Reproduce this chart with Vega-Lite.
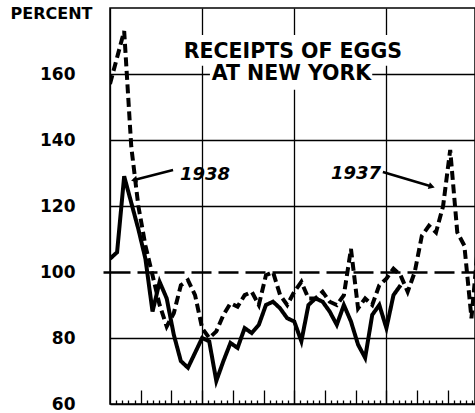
{
  "$schema": "https://vega.github.io/schema/vega-lite/v6.json",
  "width": 365,
  "height": 396,
  "autosize": {"type": "none"},
  "padding": {"left": 110, "top": 8, "right": 0, "bottom": 9},
  "background": "white",
  "config": {"view": {"stroke": "black", "strokeWidth": 1.5}, "font": "DejaVu Sans"},
  "resolve": {"axis": {"x": "independent"}},
  "datasets": {
    "series": [
      {"year": "1937", "week": 0, "value": 157}, {"year": "1937", "week": 1, "value": 165}, {"year": "1937", "week": 2, "value": 173},
      {"year": "1937", "week": 3, "value": 138}, {"year": "1937", "week": 4, "value": 120}, {"year": "1937", "week": 5, "value": 108},
      {"year": "1937", "week": 6, "value": 99}, {"year": "1937", "week": 7, "value": 90}, {"year": "1937", "week": 8, "value": 83.5},
      {"year": "1937", "week": 9, "value": 87.5}, {"year": "1937", "week": 10, "value": 96}, {"year": "1937", "week": 11, "value": 97.5},
      {"year": "1937", "week": 12, "value": 93}, {"year": "1937", "week": 13, "value": 83}, {"year": "1937", "week": 14, "value": 80},
      {"year": "1937", "week": 15, "value": 82}, {"year": "1937", "week": 16, "value": 87}, {"year": "1937", "week": 17, "value": 90.5},
      {"year": "1937", "week": 18, "value": 89.5}, {"year": "1937", "week": 19, "value": 93}, {"year": "1937", "week": 20, "value": 94},
      {"year": "1937", "week": 21, "value": 90}, {"year": "1937", "week": 22, "value": 99}, {"year": "1937", "week": 23, "value": 100},
      {"year": "1937", "week": 24, "value": 93}, {"year": "1937", "week": 25, "value": 90}, {"year": "1937", "week": 26, "value": 94},
      {"year": "1937", "week": 27, "value": 97}, {"year": "1937", "week": 28, "value": 92}, {"year": "1937", "week": 29, "value": 92},
      {"year": "1937", "week": 30, "value": 94}, {"year": "1937", "week": 31, "value": 91}, {"year": "1937", "week": 32, "value": 90},
      {"year": "1937", "week": 33, "value": 93}, {"year": "1937", "week": 34, "value": 107}, {"year": "1937", "week": 35, "value": 89},
      {"year": "1937", "week": 36, "value": 92}, {"year": "1937", "week": 37, "value": 90}, {"year": "1937", "week": 38, "value": 96},
      {"year": "1937", "week": 39, "value": 98}, {"year": "1937", "week": 40, "value": 101}, {"year": "1937", "week": 41, "value": 99},
      {"year": "1937", "week": 42, "value": 94}, {"year": "1937", "week": 43, "value": 100}, {"year": "1937", "week": 44, "value": 111},
      {"year": "1937", "week": 45, "value": 114}, {"year": "1937", "week": 46, "value": 112}, {"year": "1937", "week": 47, "value": 120},
      {"year": "1937", "week": 48, "value": 137}, {"year": "1937", "week": 49, "value": 112}, {"year": "1937", "week": 50, "value": 108},
      {"year": "1937", "week": 51, "value": 86}, {"year": "1937", "week": 52, "value": 110},
      {"year": "1938", "week": 0, "value": 104}, {"year": "1938", "week": 1, "value": 106}, {"year": "1938", "week": 2, "value": 129},
      {"year": "1938", "week": 3, "value": 121}, {"year": "1938", "week": 4, "value": 113}, {"year": "1938", "week": 5, "value": 104},
      {"year": "1938", "week": 6, "value": 88}, {"year": "1938", "week": 7, "value": 97}, {"year": "1938", "week": 8, "value": 92},
      {"year": "1938", "week": 9, "value": 81}, {"year": "1938", "week": 10, "value": 73}, {"year": "1938", "week": 11, "value": 71},
      {"year": "1938", "week": 12, "value": 75.5}, {"year": "1938", "week": 13, "value": 80}, {"year": "1938", "week": 14, "value": 79},
      {"year": "1938", "week": 15, "value": 67}, {"year": "1938", "week": 16, "value": 73}, {"year": "1938", "week": 17, "value": 78.5},
      {"year": "1938", "week": 18, "value": 77}, {"year": "1938", "week": 19, "value": 83}, {"year": "1938", "week": 20, "value": 81.5},
      {"year": "1938", "week": 21, "value": 84}, {"year": "1938", "week": 22, "value": 90}, {"year": "1938", "week": 23, "value": 91},
      {"year": "1938", "week": 24, "value": 89}, {"year": "1938", "week": 25, "value": 86}, {"year": "1938", "week": 26, "value": 85},
      {"year": "1938", "week": 27, "value": 79}, {"year": "1938", "week": 28, "value": 90}, {"year": "1938", "week": 29, "value": 92},
      {"year": "1938", "week": 30, "value": 91}, {"year": "1938", "week": 31, "value": 88}, {"year": "1938", "week": 32, "value": 84},
      {"year": "1938", "week": 33, "value": 90}, {"year": "1938", "week": 34, "value": 85}, {"year": "1938", "week": 35, "value": 78},
      {"year": "1938", "week": 36, "value": 74}, {"year": "1938", "week": 37, "value": 87}, {"year": "1938", "week": 38, "value": 90},
      {"year": "1938", "week": 39, "value": 83}, {"year": "1938", "week": 40, "value": 93}, {"year": "1938", "week": 41, "value": 96}
    ],
    "boxes": [
      {"week": 9.9, "week2": 42, "value": 162.5, "value2": 171.8},
      {"week": 14.1, "week2": 37, "value": 155.2, "value2": 163.6}
    ],
    "titles": [
      {"label": "RECEIPTS OF EGGS", "week": 25.8, "value": 166.7},
      {"label": "AT NEW YORK", "week": 25.6, "value": 160}
    ],
    "years": [
      {"label": "1938", "week": 13.4, "value": 129.4},
      {"label": "1937", "week": 34.7, "value": 129.7}
    ],
    "arrows": [
      {"year": "1938", "week": 8.9, "value": 130.9, "week2": 3.4, "value2": 127.9},
      {"year": "1937", "week": 38.5, "value": 130.3, "week2": 45.4, "value2": 125.9}
    ]
  },
  "layer": [
    {
      "data": {"name": "series"},
      "mark": {"type": "line", "color": "black", "strokeWidth": 4, "clip": true, "strokeCap": "butt"},
      "encoding": {
        "x": {
          "field": "week", "type": "quantitative",
          "scale": {"domain": [0, 51.5], "nice": false, "zero": false},
          "axis": {
            "orient": "bottom", "title": null, "labels": false, "domain": false, "ticks": false,
            "values": [0, 13, 26, 39],
            "grid": true, "gridColor": "black", "gridWidth": 1.3, "gridOpacity": 1
          }
        },
        "y": {
          "field": "value", "type": "quantitative",
          "scale": {"domain": [60, 180], "nice": false, "zero": false},
          "axis": {
            "values": [60, 80, 100, 120, 140, 160],
            "title": "PERCENT", "titleAngle": 0, "titleAlign": "left", "titleBaseline": "alphabetic",
            "titleX": -100, "titleY": 10, "titleFont": "DejaVu Sans", "titleFontSize": 16, "titleFontWeight": "bold", "titleColor": "black",
            "labelFont": "DejaVu Sans", "labelFontSize": 17, "labelFontWeight": "bold", "labelColor": "black",
            "labelPadding": 28, "labelFlush": false, "labelOverlap": false,
            "tickSize": 7, "tickColor": "black", "tickWidth": 2.5,
            "tickOpacity": {"condition": {"test": "datum.value === 100", "value": 1}, "value": 0},
            "domain": false, "grid": true, "gridColor": "black", "gridOpacity": 1,
            "gridWidth": {"condition": {"test": "datum.value === 100", "value": 2.5}, "value": 1.3},
            "gridDash": {"condition": {"test": "datum.value === 100", "value": [20, 7]}, "value": []}
          }
        },
        "strokeDash": {"field": "year", "type": "nominal", "scale": {"domain": ["1937", "1938"], "range": [[9, 4.5], [1, 0]]}, "legend": null}
      }
    },
    {
      "data": {"name": "boxes"},
      "mark": {"type": "rect", "color": "white"},
      "encoding": {
        "x": {
          "field": "week", "type": "quantitative",
          "axis": {
            "orient": "bottom", "title": null, "labels": false, "domain": false, "grid": false,
            "values": [4.3333, 8.6667, 13, 17.3333, 21.6667, 26, 30.3333, 34.6667, 39, 43.3333, 47.6667],
            "tickSize": -14, "tickColor": "black", "tickWidth": 1.3
          }
        },
        "x2": {"field": "week2"},
        "y": {"field": "value", "type": "quantitative"},
        "y2": {"field": "value2"}
      }
    },
    {
      "data": {"name": "titles"},
      "mark": {"type": "text", "font": "DejaVu Sans", "fontWeight": "bold", "fontSize": 20.5, "color": "black", "align": "center", "baseline": "middle"},
      "encoding": {
        "x": {
          "field": "week", "type": "quantitative",
          "axis": {
            "orient": "bottom", "title": null, "labels": false, "domain": false, "grid": false,
            "values": [0.8667, 1.7333, 2.6, 3.4667, 5.2, 6.0667, 6.9333, 7.8, 9.5333, 10.4, 11.2667, 12.1333, 13.8667, 14.7333, 15.6, 16.4667, 18.2, 19.0667, 19.9333, 20.8, 22.5333, 23.4, 24.2667, 25.1333, 26.8667, 27.7333, 28.6, 29.4667, 31.2, 32.0667, 32.9333, 33.8, 35.5333, 36.4, 37.2667, 38.1333, 39.8667, 40.7333, 41.6, 42.4667, 44.2, 45.0667, 45.9333, 46.8, 48.5333, 49.4, 50.2667, 51.1333],
            "tickSize": -4, "tickColor": "black", "tickWidth": 1.3
          }
        },
        "y": {"field": "value", "type": "quantitative"},
        "text": {"field": "label"}
      }
    },
    {
      "data": {"name": "years"},
      "mark": {"type": "text", "font": "DejaVu Sans", "fontWeight": "bold", "fontStyle": "italic", "fontSize": 18, "color": "black", "align": "center", "baseline": "middle"},
      "encoding": {
        "x": {"field": "week", "type": "quantitative", "axis": null},
        "y": {"field": "value", "type": "quantitative"},
        "text": {"field": "label"}
      }
    },
    {
      "data": {"name": "arrows"},
      "mark": {"type": "rule", "color": "black", "strokeWidth": 2.5},
      "encoding": {
        "x": {"field": "week", "type": "quantitative", "axis": null},
        "x2": {"field": "week2"},
        "y": {"field": "value", "type": "quantitative"},
        "y2": {"field": "value2"}
      }
    },
    {
      "data": {"name": "arrows"},
      "transform": [{"filter": "datum.year === '1938'"}],
      "mark": {"type": "point", "shape": "triangle-up", "filled": true, "color": "black", "size": 50, "angle": 256, "opacity": 1},
      "encoding": {
        "x": {"field": "week2", "type": "quantitative", "axis": null},
        "y": {"field": "value2", "type": "quantitative"}
      }
    },
    {
      "data": {"name": "arrows"},
      "transform": [{"filter": "datum.year === '1937'"}],
      "mark": {"type": "point", "shape": "triangle-up", "filled": true, "color": "black", "size": 50, "angle": 107, "opacity": 1},
      "encoding": {
        "x": {"field": "week2", "type": "quantitative", "axis": null},
        "y": {"field": "value2", "type": "quantitative"}
      }
    }
  ]
}
